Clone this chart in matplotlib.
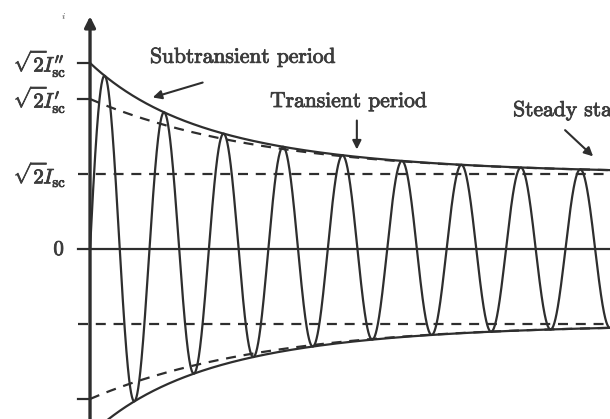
import numpy as np
import matplotlib.pyplot as plt
import matplotlib.patheffects as pe

plt.rcParams['mathtext.fontset'] = 'cm'

# current levels, in units of sqrt(2)*Isc
I_sub = 2.48   # sqrt(2) I''sc
I_tr = 2.0     # sqrt(2) I'sc
I_ss = 1.0     # sqrt(2) Isc
T_sub = 1.18   # subtransient time constant (cycles)
T_tr = 2.95    # transient time constant (cycles)

tick_levels = [I_sub, I_tr, I_ss, 0.0]
tick_labels = [r"$\sqrt{2}\!I_{\rm sc}^{\prime\prime}$", r"$\sqrt{2}\!I_{\rm sc}^{\prime}$",
               r"$\sqrt{2}\!I_{\rm sc}$", r"$0$"]

notes = ["Subtransient period", "Transient period", "Steady state"]
note_xy = [(1.01, 2.56), (3.03, 1.97), (7.12, 1.85)]
arrow_from = [(1.94, 2.23), (4.49, 1.75), (7.96, 1.61)]
arrow_to = [(1.01, 2.01), (4.49, 1.29), (8.50, 1.21)]

col = '#2e2e2e'
tcol = '#3c3c3c'
thick = [pe.withStroke(linewidth=0.6, foreground=tcol)]

fig = plt.figure(figsize=(6.1, 4.19), dpi=100)
ax = fig.add_axes([0, 0, 1, 1])
ax.set_xlim(-1.515, 8.75)
ax.set_ylim(-2.267, 3.32)
ax.axis('off')

t = np.linspace(0, 9, 3000)
transient = I_ss + (I_tr - I_ss) * np.exp(-t / T_tr)
envelope = transient + (I_sub - I_tr) * np.exp(-t / T_sub)
wave = envelope * np.sin(2 * np.pi * t)

# envelopes
ax.plot(t, envelope, color=col, lw=1.6)
ax.plot(t, -envelope, color=col, lw=1.6)
ax.plot(t, transient, color=col, lw=1.6, ls=(0, (4.5, 3.5)))
ax.plot(t, -transient, color=col, lw=1.6, ls=(0, (4.5, 3.5)))

# wave
ax.plot(t, wave, color=col, lw=1.6)

# reference lines
ax.plot([-0.2, 9], [0, 0], color=col, lw=1.6)
ax.plot([-0.2, 9], [I_ss, I_ss], color=col, lw=1.6, ls=(0, (4.5, 3.5)))
ax.plot([-0.2, 9], [-I_ss, -I_ss], color=col, lw=1.6, ls=(0, (4.5, 3.5)))
for lev in [I_sub, I_tr, -I_tr]:
    ax.plot([-0.2, 0], [lev, lev], color=col, lw=1.6)

# vertical axis with arrow
ax.annotate('', xy=(0, 3.14), xytext=(0, -2.4),
            arrowprops=dict(arrowstyle='-|>', lw=2.4, color=col, mutation_scale=16))
ax.text(-0.45, 3.1, r'$i$', fontsize=7, color=tcol, ha='center', va='center')

for lev, lab in zip(tick_levels, tick_labels):
    ax.text(-0.42, lev, lab, fontsize=15, color=tcol, ha='right', va='center',
            path_effects=thick)

for s, xy, a0, a1 in zip(notes, note_xy, arrow_from, arrow_to):
    ax.text(xy[0], xy[1], s, fontsize=15.5, family='cmr10', color=tcol,
            ha='left', va='center', path_effects=thick)
    ax.annotate('', xy=a1, xytext=a0,
                arrowprops=dict(arrowstyle='-|>', lw=1.5, color=col, mutation_scale=13))

fig.savefig('out.png', dpi=100, facecolor='white')
